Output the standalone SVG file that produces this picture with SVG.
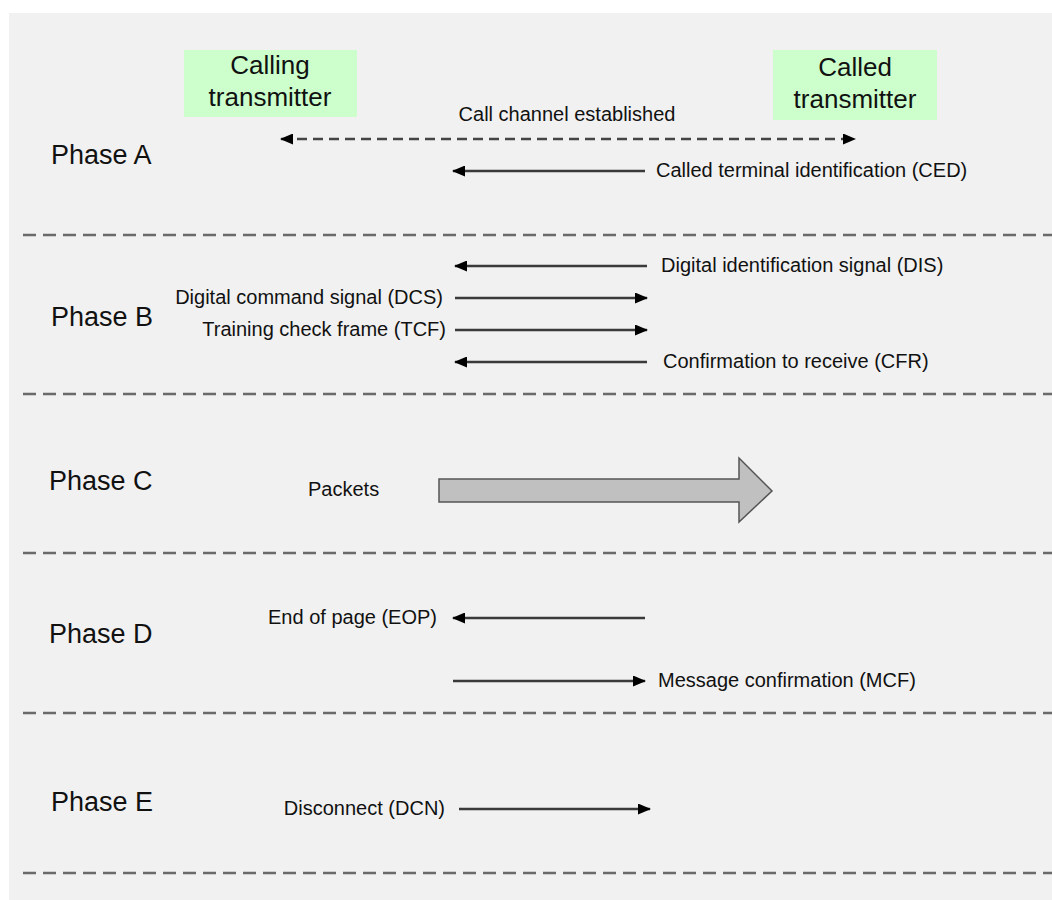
<svg xmlns="http://www.w3.org/2000/svg" width="1052" height="900" viewBox="0 0 1052 900">
  <style>
    .lbl { font-family: "Liberation Sans", Arial, sans-serif; font-size: 20px; fill: #111; }
    .phase { font-family: "Liberation Sans", Arial, sans-serif; font-size: 27px; fill: #111; }
    .party { font-family: "Liberation Sans", Arial, sans-serif; font-size: 26px; fill: #111; text-anchor: middle; }
    .sep { stroke: #6a6a6a; stroke-width: 2.5; stroke-dasharray: 13 7; fill: none; }
    .msg { stroke: #3a3a3a; stroke-width: 2.5; fill: none; }
    .msg-dash { stroke: #444; stroke-width: 2.5; stroke-dasharray: 10 6; fill: none; }
  </style>
  <defs>
    <marker id="head" viewBox="0 0 13 11" refX="12" refY="5.5" markerWidth="13" markerHeight="11" markerUnits="userSpaceOnUse" orient="auto-start-reverse">
      <path d="M0,0 L13,5.5 L0,11 Z" fill="#000"/>
    </marker>
  </defs>

  <!-- background panel -->
  <rect x="9" y="13" width="1043" height="887" fill="#f1f1f1"/>

  <!-- phase separators -->
  <g id="separators">
    <line class="sep" x1="23" y1="235" x2="1052" y2="235"/>
    <line class="sep" x1="23" y1="394" x2="1052" y2="394"/>
    <line class="sep" x1="23" y1="553" x2="1052" y2="553"/>
    <line class="sep" x1="23" y1="713" x2="1052" y2="713"/>
    <line class="sep" x1="23" y1="873" x2="1052" y2="873"/>
  </g>

  <!-- parties -->
  <g id="calling-transmitter">
    <rect x="184" y="50" width="173" height="67" fill="#ccffcc"/>
    <text class="party" x="270" y="74">Calling</text>
    <text class="party" x="270" y="106">transmitter</text>
  </g>
  <g id="called-transmitter">
    <rect x="773" y="50" width="164" height="70" fill="#ccffcc"/>
    <text class="party" x="855" y="76">Called</text>
    <text class="party" x="855" y="108">transmitter</text>
  </g>

  <!-- phase labels -->
  <g id="phase-labels">
    <text class="phase" x="51" y="164">Phase A</text>
    <text class="phase" x="51" y="326">Phase B</text>
    <text class="phase" x="49" y="490">Phase C</text>
    <text class="phase" x="49" y="643">Phase D</text>
    <text class="phase" x="51" y="811">Phase E</text>
  </g>

  <!-- signal connectors -->
  <g id="connectors">
    <line class="msg-dash" x1="281" y1="139" x2="855" y2="139" marker-start="url(#head)" marker-end="url(#head)"/>
    <line class="msg" x1="645" y1="171" x2="453" y2="171" marker-end="url(#head)"/>
    <line class="msg" x1="647" y1="266" x2="455" y2="266" marker-end="url(#head)"/>
    <line class="msg" x1="455" y1="298" x2="647" y2="298" marker-end="url(#head)"/>
    <line class="msg" x1="455" y1="330" x2="647" y2="330" marker-end="url(#head)"/>
    <line class="msg" x1="647" y1="362" x2="455" y2="362" marker-end="url(#head)"/>
    <polygon id="packets-arrow" points="439,479 739,479 739,458 772,491 739,522 739,502 439,502" fill="#c0c0c0" stroke="#555" stroke-width="1.5"/>
    <line class="msg" x1="645" y1="618" x2="453" y2="618" marker-end="url(#head)"/>
    <line class="msg" x1="453" y1="681" x2="645" y2="681" marker-end="url(#head)"/>
    <line class="msg" x1="459" y1="809" x2="650" y2="809" marker-end="url(#head)"/>
  </g>

  <!-- signal labels -->
  <g id="signal-labels">
    <text class="lbl" x="567" y="121" text-anchor="middle">Call channel established</text>
    <text class="lbl" x="656" y="177">Called terminal identification (CED)</text>
    <text class="lbl" x="661" y="272">Digital identification signal (DIS)</text>
    <text class="lbl" x="443" y="304" text-anchor="end">Digital command signal (DCS)</text>
    <text class="lbl" x="446" y="336" text-anchor="end">Training check frame (TCF)</text>
    <text class="lbl" x="663" y="368">Confirmation to receive (CFR)</text>
    <text class="lbl" x="308" y="496">Packets</text>
    <text class="lbl" x="437" y="624" text-anchor="end">End of page (EOP)</text>
    <text class="lbl" x="658" y="687">Message confirmation (MCF)</text>
    <text class="lbl" x="445" y="815" text-anchor="end">Disconnect (DCN)</text>
  </g>
</svg>
